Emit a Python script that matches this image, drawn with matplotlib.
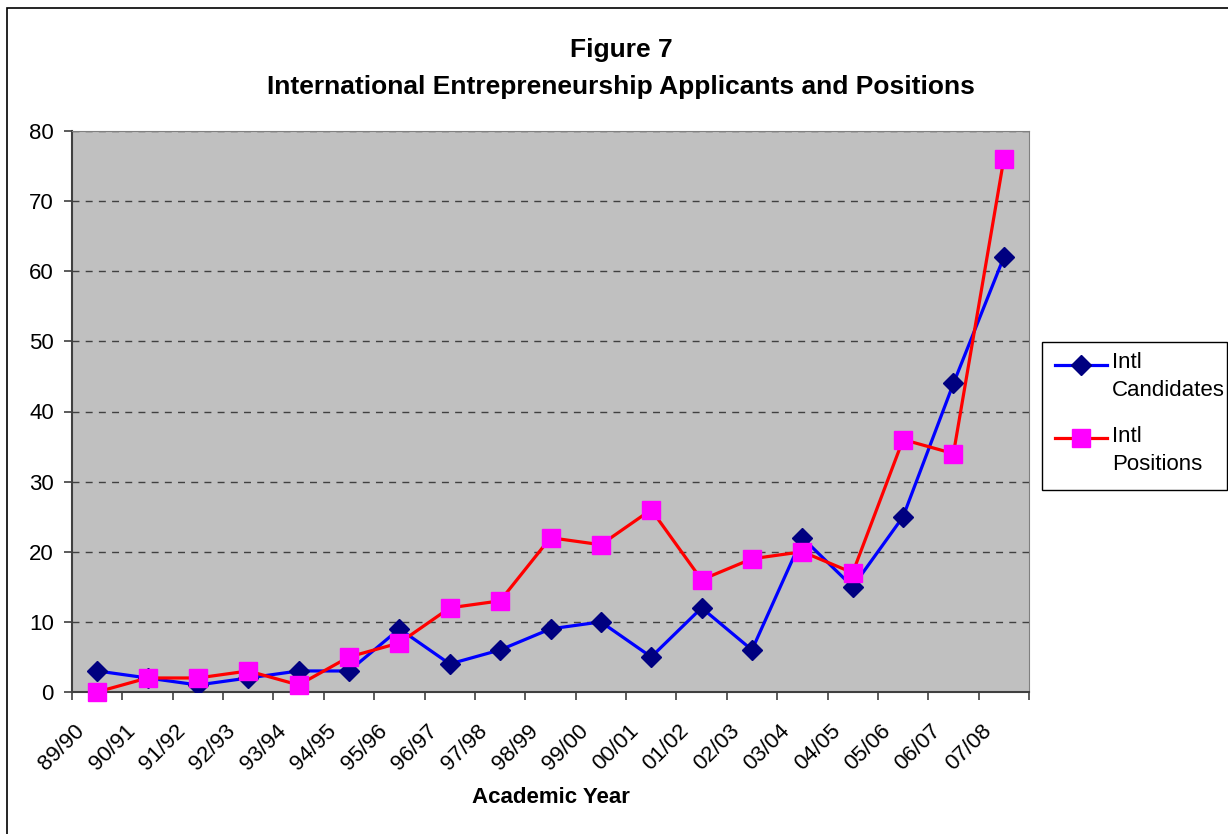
import numpy as np
import matplotlib.pyplot as plt
import matplotlib.transforms as mtransforms
from matplotlib.patches import Rectangle
from matplotlib.lines import Line2D

plt.rcParams['font.family'] = ['Liberation Sans', 'DejaVu Sans']

# dati
anni = ['89/90', '90/91', '91/92', '92/93', '93/94', '94/95', '95/96', '96/97', '97/98',
        '98/99', '99/00', '00/01', '01/02', '02/03', '03/04', '04/05', '05/06', '06/07', '07/08']
candidati = [3, 2, 1, 2, 3, 3, 9, 4, 6, 9, 10, 5, 12, 6, 22, 15, 25, 44, 62]
posizioni = [0, 2, 2, 3, 1, 5, 7, 12, 13, 22, 21, 26, 16, 19, 20, 17, 36, 34, 76]

W, H = 1228, 834
fig = plt.figure(figsize=(W / 100, H / 100), dpi=100)
ax = fig.add_axes([72 / W, 1 - 692 / H, (1029 - 72) / W, (692 - 131) / H])
ax.set_facecolor('#c0c0c0')

x = np.arange(len(anni))
ax.plot(x, candidati, '-', color='#0000ff', lw=2.3, marker='D', ms=10,
        mfc='#000080', mec='#000080', zorder=3)
ax.plot(x, posizioni, '-', color='#ff0000', lw=2.3, marker='s', ms=13,
        mfc='#ff00ff', mec='#ff00ff', zorder=3, clip_on=False)

ax.set_xlim(-0.5, len(anni) - 0.5)
ax.set_ylim(0, 80)
ax.set_yticks(np.arange(0, 81, 10))
ax.yaxis.grid(True, linestyle=(0, (5, 4.5)), color='#404040', lw=1)
ax.set_axisbelow(True)

# tick ai bordi delle categorie, etichette al centro (scritte a mano per poterle spostare)
ax.set_xticks(np.arange(len(anni) + 1) - 0.5)
ax.set_xticklabels([])
ax.tick_params(axis='x', length=6, width=1.2, color='#404040')
ax.tick_params(axis='y', length=6, width=1.2, color='#404040', labelsize=16, pad=7)
trans_lab = ax.get_xaxis_transform() + mtransforms.ScaledTranslation(-23 / 100, -28.5 / 100,
                                                                      fig.dpi_scale_trans)
for i, a in enumerate(anni):
    ax.text(i, 0, a, transform=trans_lab, rotation=45, ha='right', va='top',
            rotation_mode='anchor', fontsize=16, clip_on=False)

for s in ['top', 'right']:
    ax.spines[s].set_color('#808080')
for s in ['left', 'bottom']:
    ax.spines[s].set_color('#404040')
    ax.spines[s].set_linewidth(1.5)

ax.set_xlabel('Academic Year', fontsize=16, fontweight='bold')
ax.xaxis.set_label_coords((551 - 72) / (1029 - 72), (692 - 798) / (692 - 131))
ax.xaxis.label.set_va('center')

fig.text(0.506, 1 - 50 / H, 'Figure 7', ha='center', va='center',
         fontsize=19, fontweight='bold')
fig.text(0.506, 1 - 87 / H, 'International Entrepreneurship Applicants and Positions',
         ha='center', va='center', fontsize=19, fontweight='bold')

# legenda disegnata a mano (etichette su due righe, simbolo sulla prima)
fig.patches.append(Rectangle((1042 / W, 1 - 490 / H), (1227 - 1042) / W, (490 - 342) / H,
                             fill=False, edgecolor='black', lw=1, transform=fig.transFigure))
voci = [('#0000ff', 'D', 10, '#000080', 365, 'Intl', 'Candidates'),
        ('#ff0000', 's', 13, '#ff00ff', 438, 'Intl', 'Positions')]
for col, mk, ms, mcol, yy, l1, l2 in voci:
    fig.lines.append(Line2D([1055 / W, 1107 / W], [1 - yy / H] * 2, color=col, lw=2.3,
                            transform=fig.transFigure))
    fig.lines.append(Line2D([1081 / W], [1 - yy / H], marker=mk, ms=ms, mfc=mcol, mec=mcol,
                            transform=fig.transFigure))
    fig.text(1112 / W, 1 - (yy - 2) / H, l1, ha='left', va='center', fontsize=16)
    fig.text(1112 / W, 1 - (yy + 26) / H, l2, ha='left', va='center', fontsize=16)

# bordo esterno del grafico
fig.patches.append(Rectangle((7 / W, -0.1), 1.5, 1.1 - 8 / H, fill=False,
                             edgecolor='black', lw=1.2, transform=fig.transFigure))

plt.savefig('out.png', dpi=100)
